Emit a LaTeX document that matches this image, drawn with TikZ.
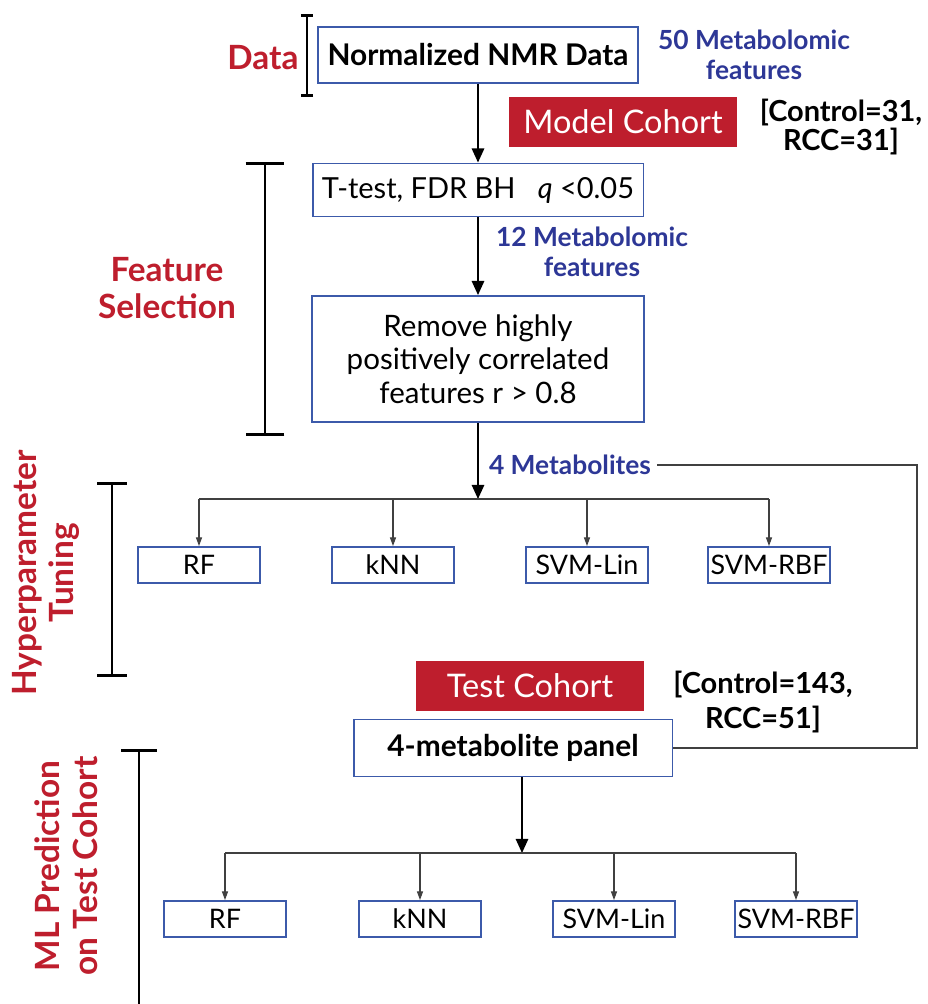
\documentclass[tikz,border=0pt]{standalone}
\usepackage{fontspec}
\setmainfont{Lato}
\usepackage{tikz}
\usetikzlibrary{arrows.meta, calc, positioning}
\usepackage{xcolor}
\definecolor{labelred}{RGB}{190,30,45}
\definecolor{boxblue}{RGB}{60,90,170}
\definecolor{noteblue}{RGB}{45,55,150}

\begin{document}
\begin{tikzpicture}[x=0.02cm, y=-0.02cm,
    stepbox/.style={draw=boxblue, line width=1.1pt, fill=white, inner sep=0pt},
    modelbox/.style={stepbox, minimum width=2.44cm, minimum height=0.72cm, font=\fontsize{15.3}{17}\selectfont},
    cohort/.style={fill=labelred, text=white, minimum width=4.56cm, minimum height=1cm, font=\fontsize{18.5}{21}\selectfont},
    phase/.style={text=labelred, font=\bfseries\fontsize{19}{21.5}\selectfont, align=center},
    note/.style={text=noteblue, font=\bfseries\fontsize{15}{17}\selectfont, align=center},
    counts/.style={font=\bfseries\fontsize{16.5}{16.5}\selectfont, align=center},
    bracket/.style={line width=1.7pt},
    mainarrow/.style={line width=1.1pt, -{Triangle[length=8pt, width=7pt]}},
    branch/.style={draw=black!75, line width=0.6pt},
    subarrow/.style={branch, -{Triangle[length=5pt, width=3.5pt]}}]
    \useasboundingbox (0,0) rectangle (927,1004);

    % Data
    \node[phase] (data) at (263,58) {Data};
    \draw[bracket, {Bar[width=7pt]}-{Bar[width=7pt]}] (307,14) -- (307,97);
    \node[stepbox, minimum width=6.4cm, minimum height=1.12cm, font=\bfseries\fontsize{17}{20}\selectfont] (nmr) at (478,55) {Normalized NMR Data};
    \node[note] (fifty) at (754,55) {50 Metabolomic\\features};
    \node[cohort] (model) at (623,122) {Model Cohort};
    \node[counts] (modeln) at (841,127) {[Control=31,\\RCC=31]};

    % Feature selection
    \node[phase] (featsel) at (167,288) {Feature\\Selection};
    \draw[bracket, {Bar[width=22pt]}-{Bar[width=22pt]}] (265,162) -- (265,436);
    \node[stepbox, minimum width=6.62cm, minimum height=1.06cm, font=\fontsize{16.5}{19}\selectfont] (ttest) at (478,190) {T-test, FDR BH \ \ \textit{q} <0.05};
    \node[note] (twelve) at (592,252) {12 Metabolomic\\features};
    \node[stepbox, minimum width=6.64cm, minimum height=2.52cm, align=center, font=\fontsize{16.8}{19}\selectfont] (remove) at (478,359) {Remove highly\\positively correlated\\features r > 0.8};
    \draw[mainarrow] (nmr) -- (ttest);
    \draw[mainarrow] (ttest) -- (remove);

    % Hyperparameter tuning
    \node[phase, rotate=90] (hyper) at (46,573) {Hyperparameter\\Tuning};
    \draw[bracket, {Bar[width=17pt]}-{Bar[width=17pt]}] (112,482) -- (112,677);
    \node[note] (metab) at (570,465) {4 Metabolites};
    \coordinate (topbar) at (478,499);
    \node[modelbox] (rf1) at (199,565) {RF};
    \node[modelbox] (knn1) at (393,565) {kNN};
    \node[modelbox] (lin1) at (587,565) {SVM-Lin};
    \node[modelbox] (rbf1) at (769,565) {SVM-RBF};
    \draw[mainarrow] (remove.south) -- (topbar);
    \draw[branch] (topbar -| rf1.north) -- (topbar -| rbf1.north);
    \foreach \m in {rf1, knn1, lin1, rbf1}
        \draw[subarrow] (topbar -| \m.north) -- (\m.north);

    % Test cohort
    \node[cohort] (test) at (530,686) {Test Cohort};
    \node[counts, font=\bfseries\fontsize{16.5}{19.5}\selectfont] (testn) at (763,702) {[Control=143,\\RCC=51]};
    \node[stepbox, minimum width=6.38cm, minimum height=1.14cm, font=\bfseries\fontsize{17}{19}\selectfont] (panel) at (513,748) {4-metabolite panel};
    \coordinate (turn) at (917,467);
    \draw[branch] (metab.east) -- (metab.east -| turn) |- (panel.east);

    % ML prediction
    \node[phase, rotate=90] (mlpred) at (66,866) {ML Prediction\\on Test Cohort};
    \draw[bracket, {Bar[width=20pt]}-] (139,749) -- (139,1004);
    \coordinate (botbar) at (522,853);
    \node[modelbox] (rf2) at (225,919) {RF};
    \node[modelbox] (knn2) at (420,919) {kNN};
    \node[modelbox] (lin2) at (614,919) {SVM-Lin};
    \node[modelbox] (rbf2) at (796,919) {SVM-RBF};
    \draw[mainarrow] (panel.south -| botbar) -- (botbar);
    \draw[branch] (botbar -| rf2.north) -- (botbar -| rbf2.north);
    \foreach \m in {rf2, knn2, lin2, rbf2}
        \draw[subarrow] (botbar -| \m.north) -- (\m.north);
\end{tikzpicture}
\end{document}
